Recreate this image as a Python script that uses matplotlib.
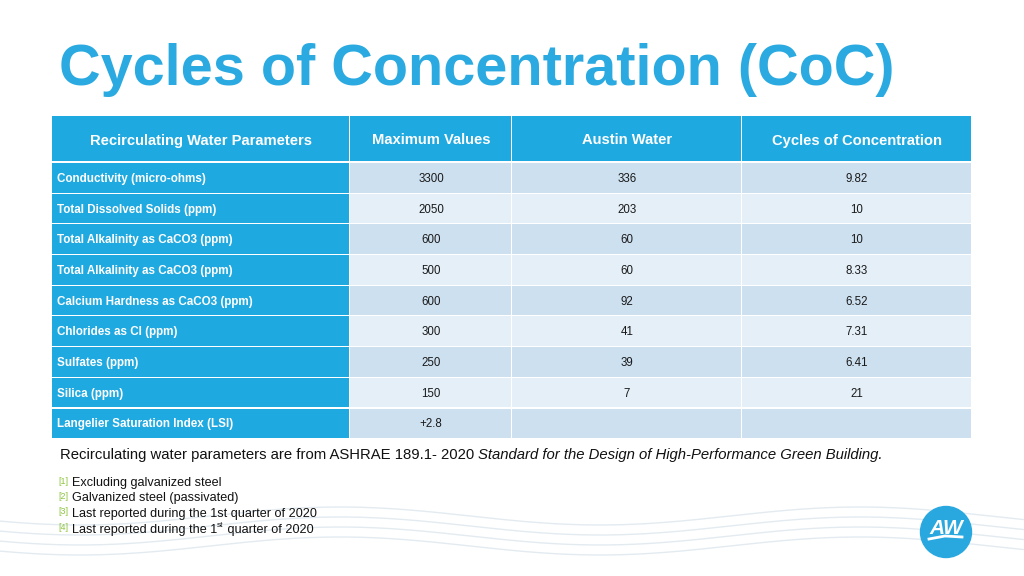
import matplotlib
matplotlib.use("Agg")
import matplotlib.pyplot as plt
from matplotlib.patches import Rectangle, Circle
import numpy as np

plt.rcParams['font.family'] = ['Liberation Sans', 'DejaVu Sans']

title = "Cycles of Concentration (CoC)"
headers = ["Recirculating Water Parameters", "Maximum Values", "Austin Water", "Cycles of Concentration"]
parameters = ["Conductivity (micro-ohms)", "Total Dissolved Solids (ppm)",
              "Total Alkalinity as CaCO3 (ppm)", "Total Alkalinity as CaCO3 (ppm)",
              "Calcium Hardness as CaCO3 (ppm)", "Chlorides as Cl (ppm)",
              "Sulfates (ppm)", "Silica (ppm)", "Langelier Saturation Index (LSI)"]
max_values = ["3300", "2050", "600", "500", "600", "300", "250", "150", "+2.8"]
austin_water = ["336", "203", "60", "60", "92", "41", "39", "7", ""]
cycles = ["9.82", "10", "10", "8.33", "6.52", "7.31", "6.41", "21", ""]
footnotes = ["Excluding galvanized steel", "Galvanized steel (passivated)",
             "Last reported during the 1st quarter of 2020"]

BLUE = "#1fa9e1"
DARK = "#cde0f0"
LIGHT = "#e4eff8"

fig = plt.figure(figsize=(10.24, 5.76), dpi=100)
ax = fig.add_axes([0, 0, 1, 1])
ax.set_xlim(0, 1024)
ax.set_ylim(576, 0)
ax.axis('off')

# background waves
xs = np.linspace(0, 1024, 600)
for k in range(4):
    ys = 516 + k * 10 + 9 * np.sin(2 * np.pi * (xs - 470) / 520)
    ax.plot(xs, ys, color="#e3ebf1", lw=1.0, zorder=0)

ax.text(59, 70, title, fontsize=41.5, fontweight='bold', color="#2aaae0", va='center')

# table
col_edges = [52, 350, 512, 742, 972]
top, head_h, row_h = 116, 46, 30.7
gap = 1.2
for j, h in enumerate(headers):
    x0, x1 = col_edges[j], col_edges[j + 1]
    ax.add_patch(Rectangle((x0, top), x1 - x0 - gap, head_h - gap, color=BLUE, lw=0))
    ax.text((x0 + x1) / 2, top + head_h / 2, h, color='white', fontsize=10.6,
            fontweight='bold', ha='center', va='center_baseline')

columns = [parameters, max_values, austin_water, cycles]
y = top + head_h + 1
for i in range(len(parameters)):
    shade = DARK if i % 2 == 0 else LIGHT
    for j, col in enumerate(columns):
        x0, x1 = col_edges[j], col_edges[j + 1]
        fc = BLUE if j == 0 else shade
        ax.add_patch(Rectangle((x0, y), x1 - x0 - gap, row_h - gap, color=fc, lw=0))
        if j == 0:
            ax.text(x0 + 5, y + row_h / 2 - 1, col[i], color='white', fontsize=8.4,
                    fontweight='bold', va='center_baseline')
        else:
            ax.text((x0 + x1) / 2, y + row_h / 2 - 1, col[i], color='#1a1a1a',
                    fontsize=8.3, ha='center', va='center_baseline')
    y += row_h

# source note
fig.canvas.draw()
r = fig.canvas.get_renderer()
t1 = ax.text(60, 455.5, "Recirculating water parameters are from ASHRAE 189.1- 2020 ",
             fontsize=10.7, color='#111111', va='center')
bb = t1.get_window_extent(r)
x_end = ax.transData.inverted().transform((bb.x1, bb.y0))[0]
ax.text(x_end, 455.5, "Standard for the Design of High-Performance Green Building.",
        fontsize=10.7, style='italic', color='#111111', va='center')

# footnotes
fy = [483, 498.5, 514, 529.5]
for n, yy in enumerate(fy):
    ax.text(58, yy - 2, "[%d]" % (n + 1), fontsize=6.5, color='#8cc63f', va='center')
for n, txt in enumerate(footnotes):
    ax.text(72, fy[n], txt, fontsize=9.1, color='#111111', va='center')
t4 = ax.text(72, fy[3], "Last reported during the 1", fontsize=9.1, color='#111111', va='center')
bb = t4.get_window_extent(r)
xe = ax.transData.inverted().transform((bb.x1, bb.y0))[0]
t5 = ax.text(xe, fy[3] - 4, "st", fontsize=6, color='#111111', va='center')
bb = t5.get_window_extent(r)
xe = ax.transData.inverted().transform((bb.x1, bb.y0))[0]
ax.text(xe, fy[3], " quarter of 2020", fontsize=9.1, color='#111111', va='center')

# logo
ax.add_patch(Circle((946, 532), 25.5, color="#29a8e0", zorder=3))
ax.text(946, 528, "AW", fontsize=15, fontweight='bold', style='italic', color='white',
        ha='center', va='center', zorder=4)
ax.plot([929, 945, 962], [539, 536, 537], color='white', lw=2, zorder=4)

fig.savefig("out.png", dpi=100)
